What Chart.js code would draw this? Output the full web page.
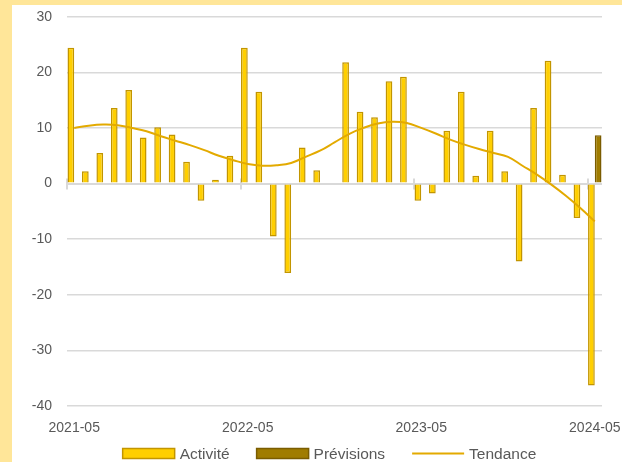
<!DOCTYPE html>
<html>
<head>
<meta charset="utf-8">
<script src="https://cdn.jsdelivr.net/npm/chart.js@4"></script>
<style>
  body { margin: 0; background: #FFE699; }
  #wrap { position: absolute; left: 12px; top: 5px; width: 610px; height: 457px; background: #fff; }
</style>
</head>
<body>
<div id="wrap"><canvas id="activityChart" width="610" height="457"></canvas></div>
<script>
const months = [
  '2021-05', '2021-06', '2021-07', '2021-08', '2021-09', '2021-10', '2021-11', '2021-12',
  '2022-01', '2022-02', '2022-03', '2022-04', '2022-05', '2022-06', '2022-07', '2022-08',
  '2022-09', '2022-10', '2022-11', '2022-12', '2023-01', '2023-02', '2023-03', '2023-04',
  '2023-05', '2023-06', '2023-07', '2023-08', '2023-09', '2023-10', '2023-11', '2023-12',
  '2024-01', '2024-02', '2024-03', '2024-04', '2024-05'
];
const activite = [
  24.4, 2.2, 5.5, 13.6, 16.8, 8.3, 10.1, 8.8, 3.9, -3.1, 0.7, 5.0,
  24.4, 16.5, -9.5, -16.1, 6.5, 2.4, 0.2, 21.8, 12.9, 11.9, 18.4, 19.2,
  -3.1, -1.8, 9.5, 16.5, 1.4, 9.5, 2.2, -14.0, 13.6, 22.1, 1.6, -6.2, -36.3
];
const previsions = [
  null, null, null, null, null, null, null, null, null, null, null, null,
  null, null, null, null, null, null, null, null, null, null, null, null,
  null, null, null, null, null, null, null, null, null, null, null, null, 8.7
];
const tendance = [
  10.0, 10.4, 10.6, 10.5, 10.0, 9.4, 8.5, 7.7, 6.9, 6.0, 5.0, 4.2,
  3.5, 3.2, 3.3, 3.7, 4.8, 5.9, 7.4, 8.9, 10.0, 10.8, 11.1, 10.9,
  10.0, 9.0, 7.9, 7.0, 6.2, 5.5, 4.8, 3.2, 1.6, -0.2, -2.2, -4.4, -6.8
];

const FONT = 'Liberation Sans, Arial, sans-serif';
const GRID = '#d9d9d9';

// small marks on the zero line, at the boundary before each labelled year
const zeroTicks = {
  id: 'zeroTicks',
  beforeDatasetsDraw(chart) {
    const x = chart.scales.x, y = chart.scales.y;
    const ctx = chart.ctx;
    const half = x.width / months.length / 2;
    const y0 = y.getPixelForValue(0);
    ctx.save();
    ctx.strokeStyle = GRID;
    ctx.lineWidth = 2;
    for (let i = 0; i < months.length; i += 12) {
      const px = Math.round(x.getPixelForValue(i) - half);
      ctx.beginPath();
      ctx.moveTo(px, y0 - 5);
      ctx.lineTo(px, y0 + 6);
      ctx.stroke();
    }
    ctx.restore();
  }
};

// legend row drawn under the axis labels
const bottomLegend = {
  id: 'bottomLegend',
  afterDraw(chart) {
    const ctx = chart.ctx;
    const boxW = 52, gapText = 5, gapItem = 27, cy = 448.5;
    ctx.save();
    ctx.font = '15.5px ' + FONT;
    ctx.textBaseline = 'middle';
    const items = chart.data.datasets.map(ds => ({
      ds, w: boxW + gapText + ctx.measureText(ds.label).width
    }));
    const total = items.reduce((s, it) => s + it.w, 0) + gapItem * (items.length - 1);
    let x = 317.5 - total / 2;
    items.forEach(({ ds, w }) => {
      if (ds.type === 'line') {
        ctx.strokeStyle = ds.borderColor;
        ctx.lineWidth = 2;
        ctx.beginPath();
        ctx.moveTo(x, cy);
        ctx.lineTo(x + boxW, cy);
        ctx.stroke();
      } else {
        ctx.fillStyle = ds.backgroundColor;
        ctx.strokeStyle = ds.borderColor;
        ctx.lineWidth = 1.5;
        ctx.fillRect(x, cy - 5, boxW, 10);
        ctx.strokeRect(x, cy - 5, boxW, 10);
      }
      ctx.fillStyle = '#595959';
      ctx.fillText(ds.label, x + boxW + gapText, cy + 1);
      x += w + gapItem;
    });
    ctx.restore();
  }
};

const ctx = document.getElementById('activityChart').getContext('2d');
new Chart(ctx, {
  type: 'bar',
  data: {
    labels: months,
    datasets: [
      {
        label: 'Activité',
        data: activite,
        backgroundColor: '#FFCF00',
        borderColor: '#C29500',
        borderWidth: 1.5,
        categoryPercentage: 0.93,
        barPercentage: 1,
        order: 1
      },
      {
        label: 'Prévisions',
        data: previsions,
        backgroundColor: '#A07C00',
        borderColor: '#7A5C00',
        borderWidth: 1.5,
        categoryPercentage: 0.93,
        barPercentage: 1,
        order: 1
      },
      {
        type: 'line',
        label: 'Tendance',
        data: tendance,
        borderColor: '#E3AA00',
        borderWidth: 2,
        pointRadius: 0,
        tension: 0.4,
        fill: false,
        order: 0
      }
    ]
  },
  options: {
    responsive: false,
    animation: false,
    layout: { padding: { left: 0, top: 11.7, right: 20, bottom: 0 } },
    plugins: {
      legend: { display: false },
      tooltip: { enabled: false }
    },
    scales: {
      x: {
        // invisible tick marks only reserve room above the labels
        grid: { drawOnChartArea: false, drawTicks: true, tickLength: 14, tickColor: 'transparent', color: 'transparent' },
        border: { display: false },
        ticks: {
          autoSkip: false,
          maxRotation: 0,
          padding: 0,
          color: '#595959',
          font: { family: FONT, size: 14 },
          callback: (v, i) => (i % 12 === 0 ? months[i] : '')
        },
        afterFit: s => { s.height = 56; }
      },
      y: {
        min: -40,
        max: 30,
        grid: {
          color: GRID,
          lineWidth: c => (c.tick.value === 0 ? 2 : 1.5),
          drawTicks: true,
          tickLength: 15,
          tickColor: 'transparent'
        },
        border: { display: false },
        ticks: {
          stepSize: 10,
          padding: 0,
          color: '#595959',
          font: { family: FONT, size: 14 }
        },
        afterFit: s => { s.width = 55; }
      }
    }
  },
  plugins: [zeroTicks, bottomLegend]
});
</script>
</body>
</html>
